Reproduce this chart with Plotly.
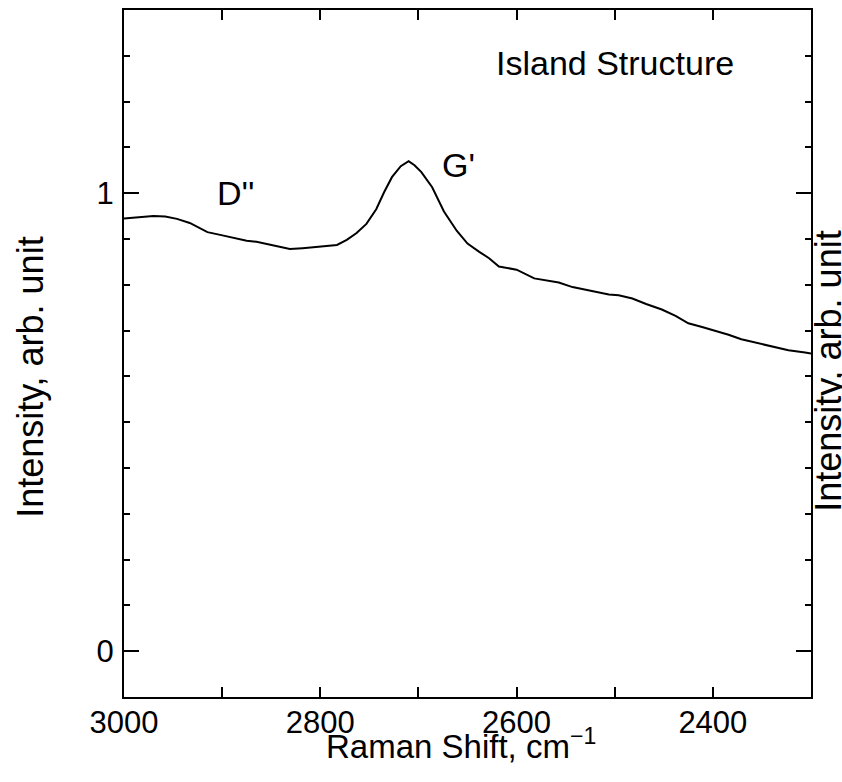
import plotly.graph_objects as go

# Raman shift (cm^-1) and intensity (arb. unit)
raman_shift = [3000, 2985, 2970, 2958, 2946, 2933, 2915, 2902, 2885, 2875, 2865, 2855,
               2843, 2831, 2818, 2801, 2783, 2773, 2763, 2753, 2743, 2735, 2727,
               2718, 2710, 2704, 2697, 2686, 2674, 2661, 2650, 2638, 2628, 2618,
               2600, 2582, 2570, 2557, 2543, 2526, 2506, 2496, 2482, 2468, 2452,
               2438, 2425, 2411, 2397, 2384, 2371, 2350, 2335, 2323, 2306, 2300]
intensity = [0.945, 0.948, 0.950, 0.949, 0.944, 0.935, 0.915, 0.909, 0.900, 0.896, 0.894, 0.889,
             0.884, 0.878, 0.880, 0.883, 0.887, 0.898, 0.913, 0.933, 0.965, 1.002, 1.035,
             1.059, 1.070, 1.061, 1.046, 1.013, 0.960, 0.918, 0.890, 0.872, 0.858, 0.840,
             0.833, 0.814, 0.810, 0.805, 0.795, 0.787, 0.779, 0.777, 0.770, 0.758, 0.746,
             0.732, 0.716, 0.708, 0.700, 0.691, 0.681, 0.671, 0.664, 0.657, 0.652, 0.650]

x_ticks = [3000, 2800, 2600, 2400]
y_ticks = [0, 1]

FONT = "Liberation Sans, Arial, sans-serif"

fig = go.Figure()
fig.add_trace(go.Scatter(x=raman_shift, y=intensity, mode="lines",
                         line=dict(color="black", width=2), showlegend=False,
                         hoverinfo="skip"))

fig.update_layout(
    width=842, height=782,
    margin=dict(l=124, r=31, t=8, b=85),
    paper_bgcolor="white", plot_bgcolor="white",
    font=dict(family=FONT, color="black", size=31),
    xaxis=dict(range=[3000, 2300], tickvals=x_ticks, ticks="inside", ticklen=10,
               tickwidth=2, tickcolor="black", showline=True, linecolor="black",
               linewidth=2, mirror="ticks", showgrid=False, zeroline=False,
               tickfont=dict(size=31), ticklabelstandoff=-3,
               minor=dict(dtick=100, ticks="inside", ticklen=10, tickwidth=2,
                          tickcolor="black", showgrid=False)),
    yaxis=dict(range=[-0.1, 1.4], tickvals=y_ticks, ticks="inside", ticklen=15,
               tickwidth=2, tickcolor="black", showline=True, linecolor="black",
               linewidth=2, mirror="ticks", showgrid=False, zeroline=False,
               tickfont=dict(size=31), ticklabelstandoff=2,
               minor=dict(dtick=0.1, ticks="inside", ticklen=6, tickwidth=2,
                          tickcolor="black", showgrid=False)),
    annotations=[
        dict(text="Island Structure", x=2500, y=1.285, xref="x", yref="y",
             showarrow=False, font=dict(size=34)),
        dict(text="D''", x=2886, y=1.0, xref="x", yref="y",
             showarrow=False, font=dict(size=34)),
        dict(text="G'", x=2659, y=1.062, xref="x", yref="y",
             showarrow=False, font=dict(size=34)),
        dict(text="Raman Shift, cm<sup>−1</sup>", x=0.49, y=-0.069, xref="paper",
             yref="paper", showarrow=False, xanchor="center", yanchor="middle",
             font=dict(size=33)),
        dict(text="Intensity, arb. unit", x=-0.1354, y=0.466, xref="paper",
             yref="paper", showarrow=False, textangle=-90, xanchor="center",
             yanchor="middle", font=dict(size=36)),
        dict(text="Intensity, arb. unit", x=1.026, y=0.4746, xref="paper",
             yref="paper", showarrow=False, textangle=-90, xanchor="center",
             yanchor="middle", font=dict(size=36)),
    ],
)

fig.write_html("out.html")
